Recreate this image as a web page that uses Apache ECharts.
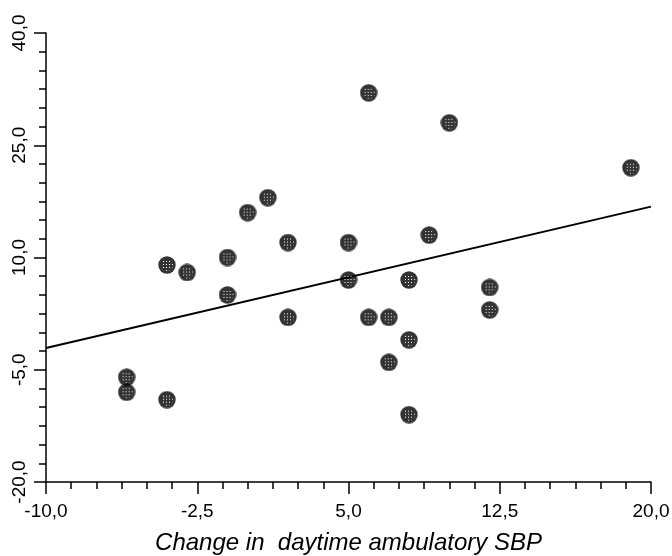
<!DOCTYPE html>
<html>
<head>
<meta charset="utf-8">
<script src="https://cdn.jsdelivr.net/npm/echarts@6/dist/echarts.min.js"></script>
<style>
  html, body { margin: 0; padding: 0; background: #fff; }
  #chart { width: 672px; height: 556px; }
</style>
</head>
<body>
<div id="chart"></div>
<script>
// change in daytime ambulatory SBP (x) vs. the other variable (y)
var xValues = [-6, -6, -4, -4, -3, -1, -1, 0, 1, 2, 2, 5, 5, 6, 6, 7, 7, 8, 8, 8, 9, 10, 12, 12, 19];
var yValues = [-6, -8, -9, 9, 8, 10, 5, 16, 18, 12, 2, 12, 7, 32, 2, 2, -4, 7, -1, -11, 13, 28, 6, 3, 22];
// regression line end points
var fitX = [-10, 20];
var fitY = [-2.1, 16.8];

var points = xValues.map(function (x, i) { return [x, yValues[i]]; });
var fitLine = fitX.map(function (x, i) { return [x, fitY[i]]; });

// dot marker: black ring with a checkered fill
var S = 18;
var dot = document.createElement('canvas');
dot.width = S; dot.height = S;
var dc = dot.getContext('2d');
dc.beginPath();
dc.arc(S / 2, S / 2, S / 2 - 0.3, 0, Math.PI * 2);
dc.fillStyle = '#000';
dc.fill();
dc.save();
dc.beginPath();
dc.arc(S / 2, S / 2, S / 2 - 3, 0, Math.PI * 2);
dc.clip();
dc.fillStyle = '#fff';
for (var i = 1; i < S; i += 3) {
    for (var j = 1; j < S; j += 3) {
        dc.fillRect(i + 1, j + 1, 1, 1);
    }
}
dc.restore();

function fmt(v) {
    return v.toFixed(1).replace('.', ',');
}

var axisFont = { color: '#000', fontFamily: 'Liberation Sans', fontSize: 19 };

var option = {
    animation: false,
    grid: { left: 46, right: 21, top: 33, bottom: 74, outerBoundsMode: 'none' },
    xAxis: {
        type: 'value',
        min: -10, max: 20, interval: 7.5,
        axisLine: { onZero: false, lineStyle: { color: '#000', width: 1.5 } },
        axisTick: { length: 12, lineStyle: { color: '#000', width: 1.5 } },
        minorTick: { show: true, splitNumber: 6, length: 7, lineStyle: { color: '#000', width: 1.5 } },
        splitLine: { show: false },
        axisLabel: Object.assign({ margin: 20, formatter: fmt }, axisFont),
        name: 'Change in  daytime ambulatory SBP',
        nameLocation: 'middle',
        nameGap: 49,
        nameTextStyle: { color: '#000', fontFamily: 'Liberation Sans', fontSize: 24, fontStyle: 'italic' }
    },
    yAxis: {
        type: 'value',
        min: -20, max: 40, interval: 15,
        axisLine: { show: true, onZero: false, lineStyle: { color: '#000', width: 1.5 } },
        axisTick: { show: true, length: 12, lineStyle: { color: '#000', width: 1.5 } },
        minorTick: { show: true, splitNumber: 6, length: 7, lineStyle: { color: '#000', width: 1.5 } },
        splitLine: { show: false },
        axisLabel: Object.assign({ margin: 17, rotate: 90, formatter: fmt }, axisFont)
    },
    series: [
        {
            type: 'line',
            data: fitLine,
            symbol: 'none',
            lineStyle: { color: '#000', width: 2 },
            z: 1
        },
        {
            type: 'scatter',
            data: points,
            symbol: 'image://' + dot.toDataURL(),
            symbolSize: S,
            z: 2
        }
    ]
};

var myChart = echarts.init(document.getElementById('chart'));
myChart.setOption(option);
</script>
</body>
</html>
